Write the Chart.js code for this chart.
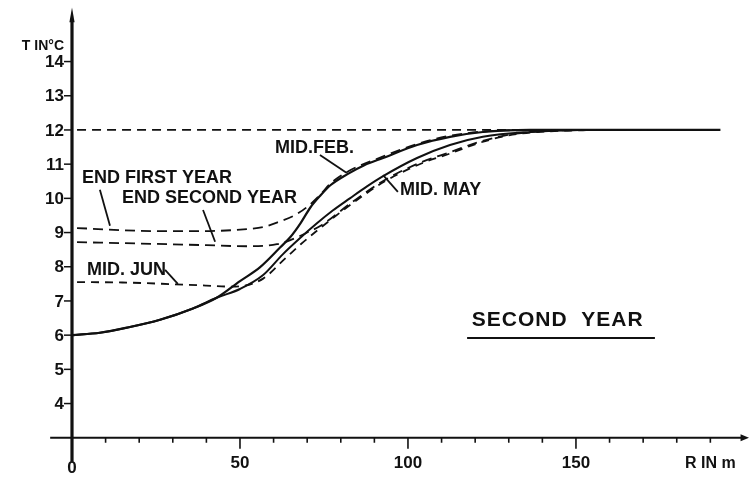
<!DOCTYPE html>
<html>
<head>
<meta charset="utf-8">
<script src="https://cdn.jsdelivr.net/npm/chart.js@4.4.1/dist/chart.umd.min.js"></script>
<style>
  html, body { margin: 0; padding: 0; background: #fff; }
  #wrap { width: 751px; height: 482px; }
</style>
</head>
<body>
<div id="wrap"><canvas id="c" width="751" height="482"></canvas></div>
<script>
// Radial distance R (m) and ground temperature T (°C) for each profile
const rGround = [1.5, 193];
const tGround = [12.0, 12.0];

const rFeb = [0, 8.3, 16.4, 26.2, 36, 43.2, 50, 56, 62, 65, 68, 71, 74, 77, 82, 87, 92.6, 102.7, 112.5, 122.3, 136.3, 150, 193];
const tFeb = [6.0, 6.07, 6.22, 6.45, 6.78, 7.1, 7.58, 7.99, 8.57, 8.87, 9.27, 9.74, 10.09, 10.39, 10.71, 10.97, 11.18, 11.56, 11.8, 11.94, 12.0, 12.0, 12.0];

const rMay = [0, 8.3, 16.4, 26.2, 36, 43.2, 50, 56.8, 62.8, 67.9, 72.9, 77.7, 82.7, 87.8, 92.6, 102.7, 112.5, 122.3, 136.3, 151];
const tMay = [6.0, 6.07, 6.22, 6.45, 6.78, 7.1, 7.35, 7.75, 8.37, 8.84, 9.27, 9.65, 10.0, 10.35, 10.65, 11.18, 11.56, 11.8, 11.94, 12.0];

const rFirstYear = [1.5, 26, 38, 52, 57, 62, 66, 70, 74, 77, 82, 93, 103, 112.5, 122, 136];
const tFirstYear = [9.13, 9.04, 9.04, 9.10, 9.16, 9.33, 9.49, 9.75, 10.12, 10.44, 10.78, 11.24, 11.6, 11.83, 11.95, 12.0];

const rSecondYear = [1.5, 20, 40, 52, 61, 65, 70, 74, 83, 93, 104, 112.5, 120.5, 130, 142, 157];
const tSecondYear = [8.72, 8.68, 8.63, 8.6, 8.66, 8.78, 9.0, 9.2, 9.86, 10.53, 11.06, 11.35, 11.63, 11.86, 11.97, 12.0];

const rJun = [1.5, 15, 30, 40, 47, 51, 57, 63, 68, 74, 83, 93, 104, 112.5, 120.5, 130, 142, 157];
const tJun = [7.55, 7.54, 7.49, 7.45, 7.42, 7.44, 7.66, 8.2, 8.65, 9.14, 9.82, 10.49, 11.02, 11.31, 11.6, 11.84, 11.96, 12.0];

// Axis ticks and labels
const yTickValues = [4, 5, 6, 7, 8, 9, 10, 11, 12, 13, 14];
const xLabelValues = [0, 50, 100, 150];
const xMinorTicks = [10, 20, 30, 40, 60, 70, 80, 90, 110, 120, 130, 140, 160, 170, 180, 190];
const xMajorTicks = [50, 100, 150];

const pts = (rs, ts) => rs.map((r, i) => ({ x: r, y: ts[i] }));
const INK = '#111';

function curve(data, dash, width) {
  return {
    data,
    showLine: true,
    borderColor: INK,
    borderWidth: width,
    borderDash: dash,
    pointRadius: 0,
    fill: false,
    cubicInterpolationMode: 'monotone'
  };
}

const FONT = '"Liberation Sans", Arial, sans-serif';

// Axes, ticks, curve names and leader lines, placed in data units via the scales
const frame = {
  id: 'frame',
  afterDatasetsDraw(chart) {
    const { ctx, scales: { x, y } } = chart;
    const px = v => x.getPixelForValue(v);
    const py = v => y.getPixelForValue(v);
    ctx.save();
    ctx.strokeStyle = INK;
    ctx.fillStyle = INK;
    ctx.lineCap = 'butt';

    // horizontal axis at T = 3
    const ax = py(3);
    ctx.lineWidth = 2.2;
    ctx.beginPath(); ctx.moveTo(px(-6.5), ax); ctx.lineTo(px(200), ax); ctx.stroke();
    ctx.beginPath();
    ctx.moveTo(px(201.5), ax); ctx.lineTo(px(199), ax - 3.5); ctx.lineTo(px(199), ax + 3.5);
    ctx.closePath(); ctx.fill();

    // vertical axis at R = 0
    const x0 = px(0);
    ctx.lineWidth = 3.2;
    ctx.beginPath(); ctx.moveTo(x0, py(2.3)); ctx.lineTo(x0, py(15.2)); ctx.stroke();
    ctx.beginPath();
    ctx.moveTo(x0, py(15.58)); ctx.lineTo(x0 - 2.6, py(15.15)); ctx.lineTo(x0 + 2.6, py(15.15));
    ctx.closePath(); ctx.fill();

    // y ticks and labels
    ctx.lineWidth = 1.5;
    ctx.font = 'bold 17px ' + FONT;
    ctx.textAlign = 'right';
    ctx.textBaseline = 'middle';
    yTickValues.forEach(v => {
      ctx.beginPath(); ctx.moveTo(x0 - 8, py(v)); ctx.lineTo(x0, py(v)); ctx.stroke();
      ctx.fillText(String(v), x0 - 8, py(v) + 1);
    });
    ctx.font = 'bold 14px ' + FONT;
    ctx.fillText('T IN°C', x0 - 8, py(14.45));

    // x ticks below the axis
    ctx.lineWidth = 1.6;
    xMinorTicks.forEach(v => {
      ctx.beginPath(); ctx.moveTo(px(v), ax); ctx.lineTo(px(v), ax + 5); ctx.stroke();
    });
    xMajorTicks.forEach(v => {
      ctx.beginPath(); ctx.moveTo(px(v), ax); ctx.lineTo(px(v), ax + 11); ctx.stroke();
    });

    // x labels
    ctx.font = 'bold 17px ' + FONT;
    ctx.textAlign = 'center';
    xLabelValues.forEach(v => {
      ctx.fillText(String(v), px(v), py(v === 0 ? 2.1 : 2.25));
    });
    ctx.font = 'bold 16px ' + FONT;
    ctx.fillText('R IN m', px(190), py(2.25));

    // curve names
    ctx.font = 'bold 18px ' + FONT;
    ctx.textAlign = 'left';
    const names = [
      ['END FIRST YEAR', 3.0, 10.6],
      ['END SECOND YEAR', 14.9, 10.01],
      ['MID. JUN', 4.5, 7.91],
      ['MID.FEB.', 60.4, 11.47],
      ['MID. MAY', 97.6, 10.25]
    ];
    names.forEach(([t, r, v]) => ctx.fillText(t, px(r), py(v)));

    // leader lines
    ctx.lineWidth = 1.8;
    const leaders = [
      [8.3, 10.25, 11.3, 9.2],
      [39, 9.66, 42.6, 8.73],
      [27.7, 7.91, 31.5, 7.5],
      [73.8, 11.27, 81.8, 10.74],
      [97, 10.19, 92.6, 10.68]
    ];
    leaders.forEach(([r1, t1, r2, t2]) => {
      ctx.beginPath(); ctx.moveTo(px(r1), py(t1)); ctx.lineTo(px(r2), py(t2)); ctx.stroke();
    });

    // panel caption
    ctx.font = 'bold 21px ' + FONT;
    ctx.letterSpacing = '1px';
    ctx.fillText('SECOND  YEAR', px(119), py(6.44));
    ctx.letterSpacing = '0px';
    ctx.lineWidth = 2;
    ctx.beginPath(); ctx.moveTo(px(117.6), py(5.92)); ctx.lineTo(px(173.5), py(5.92)); ctx.stroke();

    ctx.restore();
  }
};

new Chart(document.getElementById('c'), {
  type: 'scatter',
  data: {
    datasets: [
      curve(pts(rGround, tGround), [9, 6], 1.8),
      curve(pts(rFirstYear, tFirstYear), [10, 6], 1.8),
      curve(pts(rSecondYear, tSecondYear), [10, 6], 1.8),
      curve(pts(rJun, tJun), [8, 6], 1.8),
      curve(pts(rFeb, tFeb), [], 2.2),
      curve(pts(rMay, tMay), [], 2.0)
    ]
  },
  options: {
    responsive: false,
    devicePixelRatio: 1,
    animation: false,
    layout: { padding: 0 },
    plugins: { legend: { display: false }, tooltip: { enabled: false } },
    scales: {
      x: { type: 'linear', display: false, min: -21.43, max: 202.1 },
      y: { type: 'linear', display: false, min: 1.706, max: 15.8 }
    }
  },
  plugins: [frame]
});
</script>
</body>
</html>
